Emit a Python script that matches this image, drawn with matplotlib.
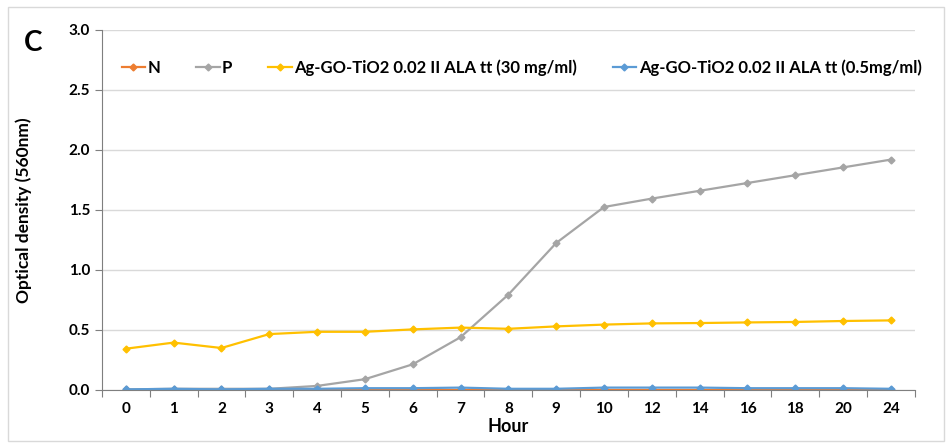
import matplotlib.pyplot as plt
from matplotlib.patches import Rectangle

hours = ["0", "1", "2", "3", "4", "5", "6", "7", "8", "9", "10",
         "12", "14", "16", "18", "20", "24"]
n_vals = [0.0] * 17
p_vals = [0.005, 0.01, 0.01, 0.01, 0.034, 0.09, 0.214, 0.44, 0.795, 1.225,
          1.525, 1.595, 1.66, 1.725, 1.79, 1.855, 1.92]
ag30_vals = [0.344, 0.395, 0.35, 0.466, 0.485, 0.485, 0.505, 0.52, 0.51,
             0.53, 0.545, 0.555, 0.558, 0.563, 0.567, 0.575, 0.58]
ag05_vals = [0.005, 0.01, 0.005, 0.01, 0.01, 0.015, 0.015, 0.02, 0.01,
             0.01, 0.02, 0.02, 0.02, 0.015, 0.015, 0.015, 0.01]

series = [
    ("N", n_vals, "#ED7D31"),
    ("P", p_vals, "#A5A5A5"),
    ("Ag-GO-TiO2 0.02 II ALA tt (30 mg/ml)", ag30_vals, "#FFC000"),
    ("Ag-GO-TiO2 0.02 II ALA tt (0.5mg/ml)", ag05_vals, "#5B9BD5"),
]

plt.rcParams["font.family"] = ["Lato", "DejaVu Sans"]
plt.rcParams["font.weight"] = "bold"

fig = plt.figure(figsize=(9.52, 4.45), dpi=100)
ax = fig.add_axes([0.107, 0.1236, 0.854, 0.809])

x = list(range(len(hours)))
for label, vals, color in series:
    ax.plot(x, vals, color=color, lw=1.6, marker="D", ms=3.5, label=label)

ax.set_xlim(-0.5, len(hours) - 0.5)
ax.set_ylim(0, 3.0)
ax.set_yticks([0, 0.5, 1.0, 1.5, 2.0, 2.5, 3.0])
ax.set_yticklabels(["0.0", "0.5", "1.0", "1.5", "2.0", "2.5", "3.0"])
ax.yaxis.grid(True, color="#D9D9D9", lw=1)
ax.set_axisbelow(True)

# tick marks sit between categories, labels at the centres
ax.set_xticks([i - 0.5 for i in range(len(hours) + 1)])
ax.set_xticklabels([])
ax.set_xticks(x, minor=True)
ax.set_xticklabels(hours, minor=True)
ax.tick_params(axis="x", which="major", length=5, color="#7F7F7F")
ax.tick_params(axis="x", which="minor", length=0, pad=9, labelsize=11)
ax.tick_params(axis="y", length=5, color="#7F7F7F", labelsize=11)

for s in ["top", "right"]:
    ax.spines[s].set_visible(False)
ax.spines["left"].set_color("#7F7F7F")
ax.spines["bottom"].set_color("#7F7F7F")

ax.set_xlabel("Hour", fontsize=13, fontweight="bold", labelpad=1)
ax.set_ylabel("Optical density (560nm)", fontsize=12.5, fontweight="bold", labelpad=26)

ax.legend(loc="upper left", bbox_to_anchor=(0.01, 0.95), ncol=4, frameon=False,
          fontsize=12, handlelength=1.4, columnspacing=2.15, handletextpad=0.15,
          borderaxespad=0.3)

fig.text(0.025, 0.885, "C", fontsize=20, fontweight="bold")
fig.patches.append(Rectangle((0.008, 0.01), 0.984, 0.975, transform=fig.transFigure,
                             fill=False, edgecolor="#D9D9D9", lw=1))

fig.savefig("out.png", dpi=100)
